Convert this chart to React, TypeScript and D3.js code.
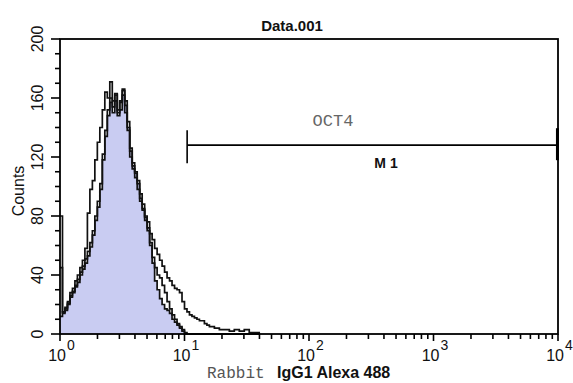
import React from 'react'
import * as d3 from 'd3'

// channel values (log-spaced fluorescence channels)
const channels = [
  1.000, 1.047, 1.096, 1.148, 1.202, 1.259, 1.318, 1.380, 1.445, 1.514,
  1.585, 1.660, 1.738, 1.820, 1.905, 1.995, 2.089, 2.188, 2.291, 2.399,
  2.512, 2.630, 2.754, 2.884, 3.020, 3.162, 3.311, 3.467, 3.631, 3.802,
  3.981, 4.169, 4.365, 4.571, 4.786, 5.012, 5.248, 5.495, 5.754, 6.026,
  6.310, 6.607, 6.918, 7.244, 7.586, 7.943, 8.318, 8.710, 9.120, 9.550,
  10.00, 10.47, 10.96, 11.48, 12.02, 12.59, 13.18, 13.80, 14.45, 15.14,
  15.85, 17.38, 19.05, 20.89, 22.91, 25.12, 27.54, 30.20, 33.11, 36.31,
  39.81
]

// isotype control (filled)
const controlCounts = [
  12, 15, 16, 20, 25, 28, 32, 35, 40, 44,
  48, 53, 59, 67, 77, 86, 98, 118, 134, 148,
  157, 150, 158, 148, 152, 162, 155, 140, 124, 114,
  109, 102, 92, 85, 79, 72, 60, 48, 36, 30,
  24, 20, 17, 16, 14, 10, 8, 6, 4, 2,
  0, 0, 0, 0, 0, 0, 0, 0, 0, 0,
  0, 0, 0, 0, 0, 0, 0, 0, 0, 0,
  0
]

// left-shifted outline
const shiftedCounts = [
  80, 15, 18, 22, 28, 31, 36, 40, 45, 50,
  58, 82, 98, 104, 118, 130, 140, 152, 164, 160,
  171, 158, 163, 150, 158, 165, 150, 138, 120, 112,
  106, 98, 90, 84, 77, 70, 62, 52, 45, 40,
  38, 33, 28, 22, 17, 13, 10, 7, 5, 3,
  1, 0, 0, 0, 0, 0, 0, 0, 0, 0,
  0, 0, 0, 0, 0, 0, 0, 0, 0, 0,
  0
]

// OCT4 outline with the long right tail
const oct4Counts = [
  45, 14, 17, 21, 26, 29, 33, 37, 42, 46,
  51, 56, 62, 70, 80, 90, 102, 122, 138, 152,
  160, 154, 162, 152, 157, 166, 158, 144, 126, 116,
  110, 104, 95, 88, 80, 76, 68, 64, 58, 54,
  50, 46, 42, 38, 36, 33, 31, 30, 28, 22,
  17, 15, 13, 12, 11, 10, 9, 9, 7, 6,
  5, 4, 3, 3, 2, 3, 2, 3, 1, 1,
  0
]

const yTicks = [0, 40, 80, 120, 160, 200]
const yMinorTicks = d3.range(0, 201, 10)
const xDecades = [1, 10, 100, 1000, 10000]
const xExponents = ['0', '1', '2', '3', '4']
const markerRange = [10.5, 9900]
const markerLevel = 128

const W = 573
const H = 383
const left = 60
const right = 558
const top = 39
const bottom = 334

export default function App() {
  const x = d3.scaleLog().domain([1, 10000]).range([left, right])
  const y = d3.scaleLinear().domain([0, 200]).range([bottom, top])

  const pts = (counts: number[]) => channels.map((c, i) => [c, counts[i]] as [number, number])

  const line = d3.line<[number, number]>()
    .x(d => x(d[0]))
    .y(d => y(d[1]))
    .curve(d3.curveStepAfter)

  const area = d3.area<[number, number]>()
    .x(d => x(d[0]))
    .y0(y(0))
    .y1(d => y(d[1]))
    .curve(d3.curveStepAfter)

  const minorX: number[] = []
  for (const dec of [1, 10, 100, 1000]) {
    for (let k = 2; k <= 9; k++) minorX.push(dec * k)
  }

  const sans = '"Liberation Sans", Arial, sans-serif'
  const mono = '"Liberation Mono", "Courier New", monospace'

  return (
    <svg width={W} height={H} style={{ position: 'absolute', left: 0, top: 0, background: '#fff' }}>
      <rect width={W} height={H} fill="#fff" />

      {/* histograms */}
      <path d={area(pts(controlCounts)) || ''} fill="#c9ccf2" stroke="none" />
      <path d={line(pts(controlCounts)) || ''} fill="none" stroke="#111" strokeWidth={1.7} />
      <path d={line(pts(shiftedCounts)) || ''} fill="none" stroke="#111" strokeWidth={1.7} />
      <path d={line(pts(oct4Counts)) || ''} fill="none" stroke="#111" strokeWidth={1.7} />

      {/* frame */}
      <rect x={left} y={top} width={right - left} height={bottom - top} fill="none" stroke="#000" strokeWidth={1.8} />

      {/* y ticks */}
      {yMinorTicks.map(t => (
        <line key={'ym' + t} x1={left} x2={left - (t % 40 === 0 ? 9 : 5)} y1={y(t)} y2={y(t)} stroke="#000" strokeWidth={1.6} />
      ))}
      {yTicks.map(t => (
        <text key={'yl' + t} transform={`translate(43,${y(t)}) rotate(-90)`} textAnchor="middle"
          fontFamily={sans} fontSize={16} fill="#111">{t}</text>
      ))}
      <text transform={`translate(24,191) rotate(-90)`} textAnchor="middle" fontFamily={sans} fontSize={16} fill="#111">Counts</text>

      {/* x ticks */}
      {minorX.map(t => (
        <line key={'xm' + t} x1={x(t)} x2={x(t)} y1={bottom} y2={bottom + 5} stroke="#000" strokeWidth={1.6} />
      ))}
      {xDecades.map((t, i) => (
        <g key={'xl' + t}>
          <line x1={x(t)} x2={x(t)} y1={bottom} y2={bottom + 7} stroke="#000" strokeWidth={1.6} />
          <text x={x(t) + 6} y={361} textAnchor="end" fontFamily={sans} fontSize={16} fill="#111">10</text>
          <text x={x(t) + 7} y={350} fontFamily={sans} fontSize={14} fill="#111">{xExponents[i]}</text>
        </g>
      ))}

      {/* title */}
      <text x={292} y={31} textAnchor="middle" fontFamily={sans} fontSize={15} fontWeight="bold" fill="#111">Data.001</text>

      {/* marker M1 */}
      <line x1={x(markerRange[0])} x2={x(markerRange[1])} y1={y(markerLevel)} y2={y(markerLevel)} stroke="#000" strokeWidth={1.8} />
      <line x1={x(markerRange[0])} x2={x(markerRange[0])} y1={y(markerLevel) - 15} y2={y(markerLevel) + 18} stroke="#000" strokeWidth={1.6} />
      <line x1={x(markerRange[1])} x2={x(markerRange[1])} y1={y(markerLevel) - 17} y2={y(markerLevel) + 15} stroke="#000" strokeWidth={3} />
      <text x={386} y={168} textAnchor="middle" fontFamily={sans} fontSize={14} fontWeight="bold" fill="#111">M 1</text>
      <text x={333} y={126} textAnchor="middle" fontFamily={mono} fontSize={17} fill="#666">OCT4</text>

      {/* x label */}
      <text x={207} y={378} fontFamily={mono} fontSize={16} fill="#555">Rabbit</text>
      <text x={277} y={378} fontFamily={sans} fontSize={16} fontWeight="bold" fill="#111">IgG1 Alexa 488</text>
    </svg>
  )
}
